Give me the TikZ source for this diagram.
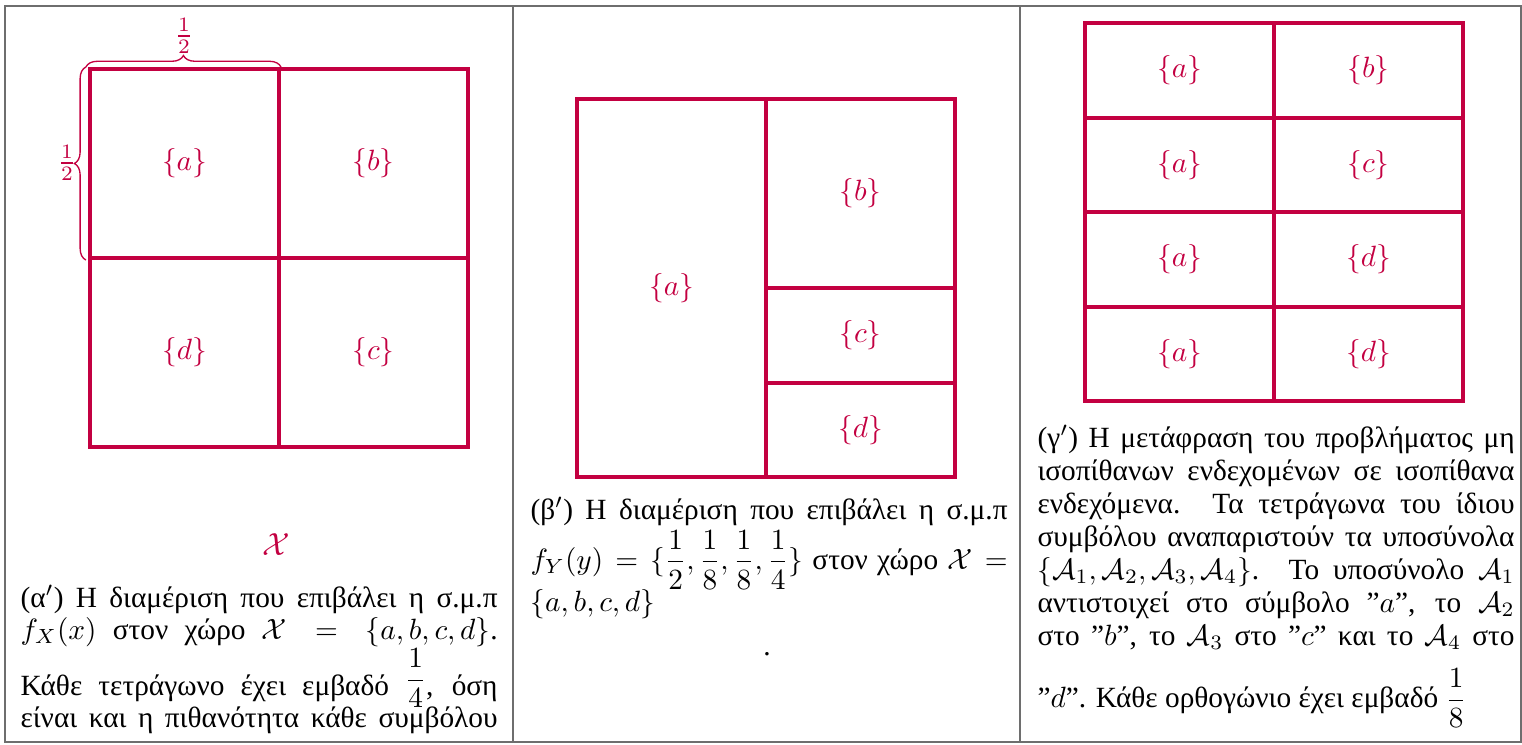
\RequirePackage{fix-cm}
\documentclass[tikz,border=0pt]{standalone}
\usepackage{amsmath}
\usepackage{fontspec}
\setmainfont{Liberation Serif}
\usetikzlibrary{decorations.pathreplacing}
\definecolor{crim}{RGB}{195,0,65}
\definecolor{framegray}{RGB}{110,110,110}
\newcommand{\fixedlines}{\lineskiplimit=-100pt\relax}
\tikzset{
  cell/.style={draw=crim, line width=1.5pt, inner sep=0pt, text=crim,
    font=\fontsize{11}{13}\selectfont},
  cellbig/.style={cell, minimum width=70.875pt, minimum height=70.875pt},
  cellhalf/.style={cell, minimum width=70.875pt, minimum height=35.44pt},
  celltall/.style={cell, minimum width=70.875pt, minimum height=141.75pt},
  framestyle/.style={draw=framegray, line width=0.45pt},
  brc/.style={draw=crim, line width=0.5pt, decorate,
    decoration={brace, amplitude=4.3pt}},
  bracelabel/.style={text=crim, inner sep=0pt, font=\fontsize{11}{13}\selectfont},
  captext/.style={text width=178.9pt, align=justify, inner sep=0pt,
    anchor=base west, font=\fontsize{11}{#1}\selectfont},
  captext/.default=12pt,
}
\begin{document}
\begin{tikzpicture}[x=0.375pt, y=-0.375pt]
\useasboundingbox (0,0) rectangle (1522,744);
% table frame
\draw[framestyle] (5,6) rectangle (1521,742);
\draw[framestyle] (513,6) -- (513,742);
\draw[framestyle] (1020,6) -- (1020,742);

% ---------- panel alpha ----------
\node[cellbig] (pa) at (184.5,163.5) {$\{a\}$};
\node[cellbig] (pb) at (373.5,163.5) {$\{b\}$};
\node[cellbig] (pd) at (184.5,352.5) {$\{d\}$};
\node[cellbig] (pc) at (373.5,352.5) {$\{c\}$};
\draw[brc] ([xshift=-0.8pt]pa.north west) -- (pa.north east);
\draw[brc] ([xshift=-0.8pt]pa.south west) -- ([xshift=-0.8pt]pa.north west);
\node[bracelabel] (htop) at (184,36) {$\frac{1}{2}$};
\node[bracelabel] (hleft) at (67,163) {$\frac{1}{2}$};
\node[text=crim, inner sep=0pt, font=\fontsize{12}{14}\selectfont] (calX) at (276,545) {$\mathcal{X}$};
\node[captext] (capA) at (20,607) {\fixedlines\parfillskip=0pt\relax
(α$'$) Η διαμέριση που επιβάλει η σ.μ.π\linebreak
$f_X(x)$ στον χώρο $\mathcal{X}=\{a,b,c,d\}$.\vadjust{\vskip 9pt}\linebreak
Κάθε τετράγωνο έχει εμβαδό \raisebox{2.8pt}{$\dfrac{1}{4}$}, όση\linebreak
είναι και η πιθανότητα κάθε συμβόλου\par};

% ---------- panel beta ----------
\node[celltall] (qa) at (671.5,288) {$\{a\}$};
\node[cellbig] (qb) at (860.5,193.5) {$\{b\}$};
\node[cellhalf] (qc) at (860.5,335.25) {$\{c\}$};
\node[cellhalf] (qd) at (860.5,429.75) {$\{d\}$};
\node[captext] (capB) at (530,519) {\fixedlines(β$'$) Η διαμέριση που επιβάλει η σ.μ.π\vadjust{\vskip 6.75pt}\linebreak
$f_Y(y)=\{\dfrac{1}{2},\dfrac{1}{8},\dfrac{1}{8},\dfrac{1}{4}\}$ στον χώρο $\mathcal{X}=$\vadjust{\vskip 4.1pt}\linebreak
$\{a,b,c,d\}$\par};
\node[inner sep=0pt, anchor=base, font=\fontsize{11}{12}\selectfont] (dotB) at (767,655) {.};

% ---------- panel gamma ----------
\node[cellhalf] (r1a) at (1179.5,70.25) {$\{a\}$};
\node[cellhalf] (r1b) at (1368.5,70.25) {$\{b\}$};
\node[cellhalf] (r2a) at (1179.5,164.75) {$\{a\}$};
\node[cellhalf] (r2c) at (1368.5,164.75) {$\{c\}$};
\node[cellhalf] (r3a) at (1179.5,259.25) {$\{a\}$};
\node[cellhalf] (r3d) at (1368.5,259.25) {$\{d\}$};
\node[cellhalf] (r4a) at (1179.5,353.75) {$\{a\}$};
\node[cellhalf] (r4d) at (1368.5,353.75) {$\{d\}$};
\node[captext=12.4pt] (capC) at (1037,447) {\fixedlines(γ$'$) Η μετάφραση του προβλήματος μη\linebreak
ισοπίθανων ενδεχομένων σε ισοπίθανα\linebreak
ενδεχόμενα. Τα τετράγωνα του ίδιου\linebreak
συμβόλου αναπαριστούν τα υποσύνολα\linebreak
$\{\mathcal{A}_1,\mathcal{A}_2,\mathcal{A}_3,\mathcal{A}_4\}$. Το υποσύνολο $\mathcal{A}_1$\linebreak
αντιστοιχεί στο σύμβολο ”$a$”, το $\mathcal{A}_2$\linebreak
στο ”$b$”, το $\mathcal{A}_3$ στο ”$c$” και το $\mathcal{A}_4$ στο\vadjust{\vskip 10.9pt}\linebreak
”$d$”. Κάθε ορθογώνιο έχει εμβαδό $\dfrac{1}{8}$\par};
\end{tikzpicture}
\end{document}
